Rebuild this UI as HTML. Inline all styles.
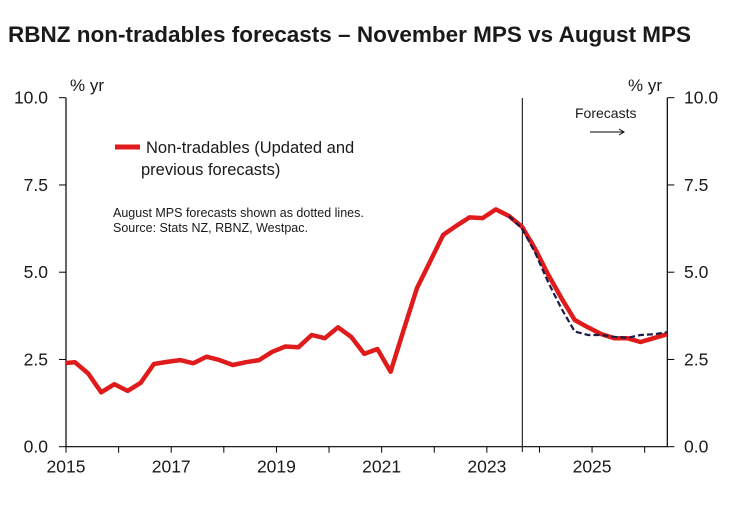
<!DOCTYPE html>
<html><head><meta charset="utf-8"><style>
body{margin:0;background:#fff;}
svg text{font-family:"Liberation Sans",sans-serif;fill:#1a1a1a;}
</style></head><body>
<svg width="736" height="503">
<text x="8" y="42" font-size="22.5" font-weight="bold" fill="#1c1c2a">RBNZ non-tradables forecasts – November MPS vs August MPS</text>
<text x="70" y="91" font-size="17">% yr</text>
<text x="628" y="91" font-size="17">% yr</text>
<g id="axes"></g>
<line x1="522.3" y1="98" x2="522.3" y2="452" stroke="#000" stroke-width="1"/>
<text x="575" y="118" font-size="14">Forecasts</text>
<line x1="590" y1="132" x2="623" y2="132" stroke="#000" stroke-width="1"/>
<path d="M619,129 L624,132 L619,135" fill="none" stroke="#000" stroke-width="1"/>
<line x1="115" y1="147" x2="140" y2="147" stroke="#e01b1b" stroke-width="5"/>
<text x="146" y="153" font-size="16.5">Non-tradables (Updated and</text>
<text x="141" y="175" font-size="16.5">previous forecasts)</text>
<text x="113" y="217" font-size="12.5">August MPS forecasts shown as dotted lines.</text>
<text x="113" y="232" font-size="12.5">Source: Stats NZ, RBNZ, Westpac.</text>
<g id="series"></g>
</svg>
<script>
const yTicks=[0,2.5,5,7.5,10];
const yTickLabels=["0.0","2.5","5.0","7.5","10.0"];
const xYears=[2015,2016,2017,2018,2019,2020,2021,2022,2023,2024,2025,2026];
const xLabels=["2015","","2017","","2019","","2021","","2023","","2025",""];
const startYear=2014.92;
const nov=[2.39,2.42,2.10,1.56,1.79,1.60,1.83,2.37,2.43,2.48,2.39,2.58,2.48,2.34,2.42,2.48,2.72,2.87,2.85,3.20,3.11,3.42,3.15,2.66,2.80,2.15,3.35,4.54,5.30,6.07,6.33,6.57,6.55,6.80,6.61,6.30,5.66,4.92,4.25,3.63,3.42,3.23,3.11,3.11,3.00,3.11,3.22];
const augStartIndex=34;
const aug=[6.61,6.25,5.55,4.70,3.95,3.30,3.20,3.20,3.15,3.12,3.20,3.22,3.28];
const NS="http://www.w3.org/2000/svg";
const X0=66,X1=667.3,Y0=446.7,Y1=97.7,yrMin=2015,yrMax=2026.43;
const sx=y=>X0+(y-yrMin)/(yrMax-yrMin)*(X1-X0);
const sy=v=>Y0-v/10*(Y0-Y1);
const ax=document.getElementById('axes'),se=document.getElementById('series');
function mk(t,a,p){const e=document.createElementNS(NS,t);for(const k in a)e.setAttribute(k,a[k]);p.appendChild(e);return e;}
let e;
e=mk('path',{d:`M${X0},${Y1} L${X0},${Y0} L${X1},${Y0} L${X1},${Y1}`,fill:'none',stroke:'#000','stroke-width':1.2},ax);


yTicks.forEach((v,i)=>{
 const y=sy(v);
 e=mk('line',{x1:X0-7,x2:X0,y1:y,y2:y,stroke:'#000'},ax);
 
 
 e=mk('line',{x1:X1,x2:X1+7,y1:y,y2:y,stroke:'#000'},ax);
 
 
 e=mk('text',{x:48,y:y+6,'font-size':17.5,'text-anchor':'end'},ax);e.textContent=yTickLabels[i];
 
 
 e=mk('text',{x:684,y:y+6,'font-size':17.5},ax);e.textContent=yTickLabels[i];
 
 
});
xYears.forEach((yr,i)=>{
 const x=sx(yr);
 e=mk('line',{x1:x,x2:x,y1:Y0,y2:Y0+6,stroke:'#000'},ax);
 
 
 if(xLabels[i]){e=mk('text',{x:x,y:Y0+26,'font-size':17.5,'text-anchor':'middle'},ax);e.textContent=xLabels[i];
 
 }
});
mk('clipPath',{id:'clp'},se).appendChild(document.createElementNS(NS,'rect'));
const cr=se.querySelector('clipPath rect');cr.setAttribute('x',X0);cr.setAttribute('y',Y1-10);cr.setAttribute('width',X1-X0);cr.setAttribute('height',Y0-Y1+10);
const pts=(arr,off)=>arr.map((v,i)=>`${sx(startYear+(i+off)*0.25).toFixed(1)},${sy(v).toFixed(1)}`).join(' ');
e=mk('polyline',{points:pts(nov,0),fill:'none',stroke:'#e01b1b','stroke-width':4.5,'stroke-linejoin':'round','clip-path':'url(#clp)'},se);


e=mk('polyline',{points:pts(aug,augStartIndex),fill:'none',stroke:'#1c1c44','stroke-width':2.2,'stroke-dasharray':'6,3','clip-path':'url(#clp)'},se);


</script>
</body></html>
